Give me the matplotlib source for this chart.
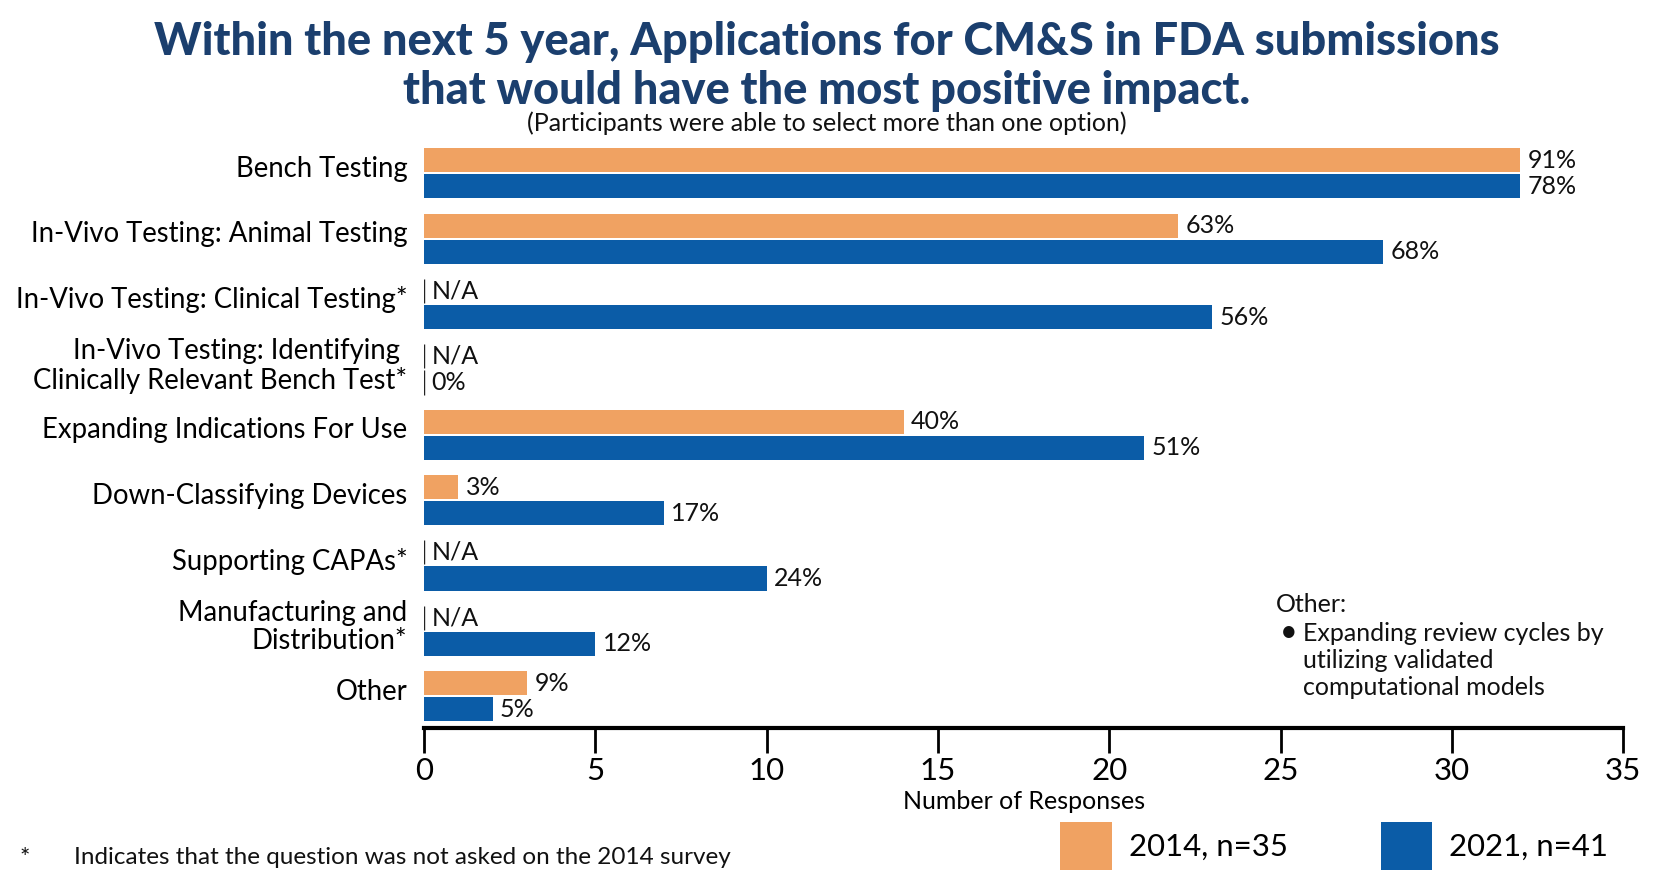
"""
Survey bar chart: applications for CM&S in FDA submissions, 2014 vs 2021.
"""

import matplotlib
matplotlib.use("Agg")
import matplotlib.pyplot as plt
import matplotlib.transforms as mtransforms
import numpy as np

categories = [
    "Bench Testing",
    "In-Vivo Testing: Animal Testing",
    "In-Vivo Testing: Clinical Testing*",
    "In-Vivo Testing: Identifying \nClinically Relevant Bench Test*",
    "Expanding Indications For Use",
    "Down-Classifying Devices",
    "Supporting CAPAs*",
    "Manufacturing and\nDistribution*",
    "Other",
]
# number of responses (None = question not asked in 2014)
counts_2014 = [32, 22, None, None, 14, 1, None, None, 3]
counts_2021 = [32, 28, 23, 0, 21, 7, 10, 5, 2]
pct_2014 = [91, 63, None, None, 40, 3, None, None, 9]
pct_2021 = [78, 68, 56, 0, 51, 17, 24, 12, 5]

ORANGE = "#F0A262"
BLUE = "#0B5CA7"
NAVY = "#1B3F6E"

plt.rcParams["font.family"] = ["Lato", "DejaVu Sans"]

fig = plt.figure(figsize=(16.53, 8.84), dpi=100)
ax = fig.add_axes([0.2565, 0.177, 0.7255, 0.658])

y = np.arange(len(categories))
h = 0.37
off = 0.2


def draw_series(counts, pcts, ypos, color, label):
    vals = [0 if c is None else c for c in counts]
    bars = ax.barh(ypos, vals, height=h, color=color, label=label)
    for yy, c, p in zip(ypos, counts, pcts):
        if c is None or c == 0:
            ax.vlines(0, yy - h * 0.5, yy + h * 0.5, color="#222222", lw=1.0)
        text = "N/A" if p is None else f"{p}%"
        xx = 0 if c is None else c
        ax.text(xx + 0.22, yy, text, va="center", ha="left", fontsize=18,
                color="#111111")
    return bars


draw_series(counts_2014, pct_2014, y - off, ORANGE, "2014, n=35")
draw_series(counts_2021, pct_2021, y + off, BLUE, "2021, n=41")

ax.set_xlim(0, 35)
ax.set_ylim(8.48, -0.42)
ax.set_xticks(range(0, 36, 5))
ax.set_yticks(y)
ax.set_yticklabels(categories, fontsize=19.8, linespacing=1.1)
ax.tick_params(axis="y", length=0, pad=12)
ax.tick_params(axis="x", direction="out", length=18, width=2, labelsize=22.5,
               pad=3, color="black")
# nudge category labels up a little
shift = mtransforms.ScaledTranslation(0, 5 / 72, fig.dpi_scale_trans)
for lbl in ax.get_yticklabels():
    lbl.set_transform(lbl.get_transform() + shift)
for s in ["top", "right", "left"]:
    ax.spines[s].set_visible(False)
ax.spines["bottom"].set_linewidth(3)
ax.set_xlabel("Number of Responses", fontsize=18, labelpad=4)

fig.text(0.5, 0.953, "Within the next 5 year, Applications for CM&S in FDA submissions",
         ha="center", va="center", fontsize=32.5, fontweight="black", color=NAVY)
fig.text(0.5, 0.897, "that would have the most positive impact.",
         ha="center", va="center", fontsize=32.5, fontweight="black", color=NAVY)
fig.text(0.5, 0.861, "(Participants were able to select more than one option)",
         ha="center", va="center", fontsize=18, color="#111111")

fig.text(0.772, 0.316, "Other:", fontsize=18, va="center", color="#111111")
fig.text(0.774, 0.285, "\u2022", fontsize=22, va="center", color="#111111")
fig.text(0.788, 0.296, "Expanding review cycles by\nutilizing validated\ncomputational models",
         fontsize=18, va="top", color="#111111", linespacing=1.2)

fig.text(0.012, 0.03, "*", fontsize=17.5, va="center", color="#111111")
fig.text(0.0446, 0.03, "Indicates that the question was not asked on the 2014 survey",
         fontsize=17.5, va="center", color="#111111")

fig.legend(loc="lower right", bbox_to_anchor=(0.99, -0.016), ncol=2,
           frameon=False, fontsize=22.4, handlelength=1.65, handleheight=2.0,
           handletextpad=0.55, columnspacing=3.0)

fig.savefig("out.png", dpi=100)
